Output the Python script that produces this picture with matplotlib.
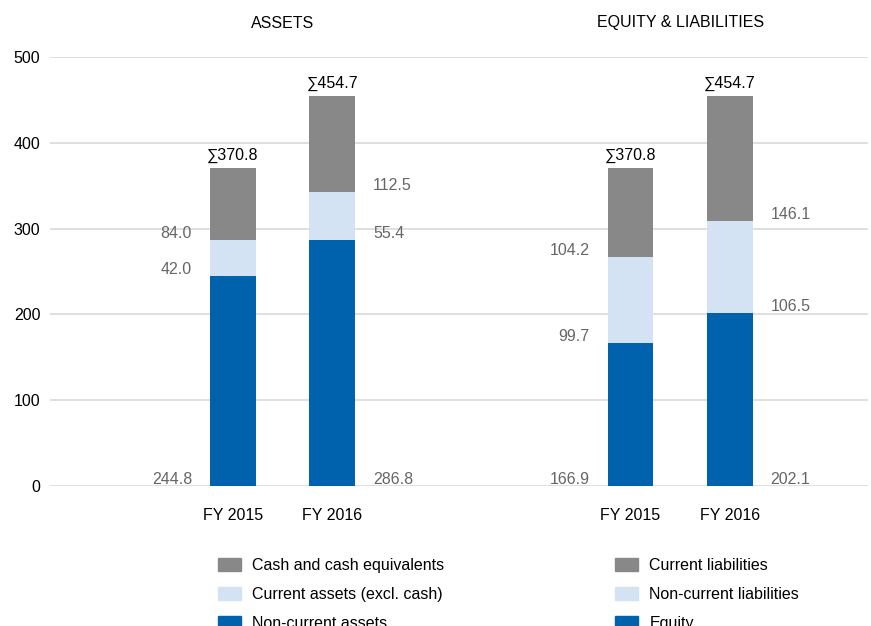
import matplotlib
matplotlib.use("Agg")
import matplotlib.pyplot as plt
from matplotlib.patches import Patch
from matplotlib.transforms import blended_transform_factory

plt.rcParams['font.family'] = ['Liberation Sans', 'DejaVu Sans']

# data
years = ["FY 2015", "FY 2016"]
groups = ["ASSETS", "EQUITY & LIABILITIES"]
assets_noncurrent = [244.8, 286.8]
assets_current = [42.0, 55.4]
assets_cash = [84.0, 112.5]
equity = [166.9, 202.1]
liab_noncurrent = [99.7, 106.5]
liab_current = [104.2, 146.1]
assets_labels = ["Non-current assets", "Current assets (excl. cash)", "Cash and cash equivalents"]
liab_labels = ["Equity", "Non-current liabilities", "Current liabilities"]
yticks = [0, 100, 200, 300, 400, 500]

colors = ["#0062ad", "#d3e3f4", "#888888"]
label_color = "#666666"
fs = 11.5

fig = plt.figure(figsize=(8.71, 6.26), dpi=100)
ax = fig.add_axes([50 / 871, 1 - 486 / 626, 818 / 871, 429 / 626])

group_pos = [[0, 1], [4, 5]]
group_data = [[assets_noncurrent, assets_current, assets_cash],
              [equity, liab_noncurrent, liab_current]]
width = 0.46

for pos, stacks in zip(group_pos, group_data):
    bottoms = [0.0, 0.0]
    for k, vals in enumerate(stacks):
        ax.bar(pos, vals, width, bottom=bottoms, color=colors[k], zorder=3)
        for i, (x, v, b) in enumerate(zip(pos, vals, bottoms)):
            if i == 0:
                ax.annotate(f"{v:.1f}", (x - width / 2, b), xytext=(-18, 2),
                            textcoords="offset pixels", ha="right", va="baseline",
                            fontsize=fs, color=label_color)
            else:
                ax.annotate(f"{v:.1f}", (x + width / 2, b), xytext=(18, 2),
                            textcoords="offset pixels", ha="left", va="baseline",
                            fontsize=fs, color=label_color)
        bottoms = [b + v for b, v in zip(bottoms, vals)]
    for x, tot in zip(pos, bottoms):
        ax.annotate(f"\u2211{tot:.1f}", (x, tot), xytext=(0, 8),
                    textcoords="offset pixels", ha="center", va="baseline",
                    fontsize=fs, color="black")

trans = blended_transform_factory(ax.transData, fig.transFigure)
for pos, name in zip(group_pos, groups):
    ax.text(sum(pos) / 2, 1 - 23 / 626, name, transform=trans, ha="center",
            va="center", fontsize=fs)

ax.set_xlim(-1.84, 6.39)
ax.set_ylim(0, 500)
ax.set_yticks(yticks)
ax.set_xticks([p for pos in group_pos for p in pos])
ax.set_xticklabels(years * 2)
ax.tick_params(axis="both", length=0, labelsize=fs)
ax.tick_params(axis="x", pad=16)
ax.tick_params(axis="y", pad=7)
ax.grid(axis="y", color="#d9d9d9", lw=1.2, zorder=0)
for s in ax.spines.values():
    s.set_visible(False)

for labels, x0 in [(assets_labels, 218), (liab_labels, 615)]:
    handles = [Patch(color=c, label=l) for c, l in zip(colors, labels)][::-1]
    fig.legend(handles=handles, loc="upper left",
               bbox_to_anchor=(x0 / 871, 1 - 558 / 626), frameon=False,
               fontsize=fs, borderpad=0, borderaxespad=0, handlelength=1.45,
               handleheight=0.88, handletextpad=0.7, labelspacing=0.88)

fig.savefig("out.png", dpi=100)
